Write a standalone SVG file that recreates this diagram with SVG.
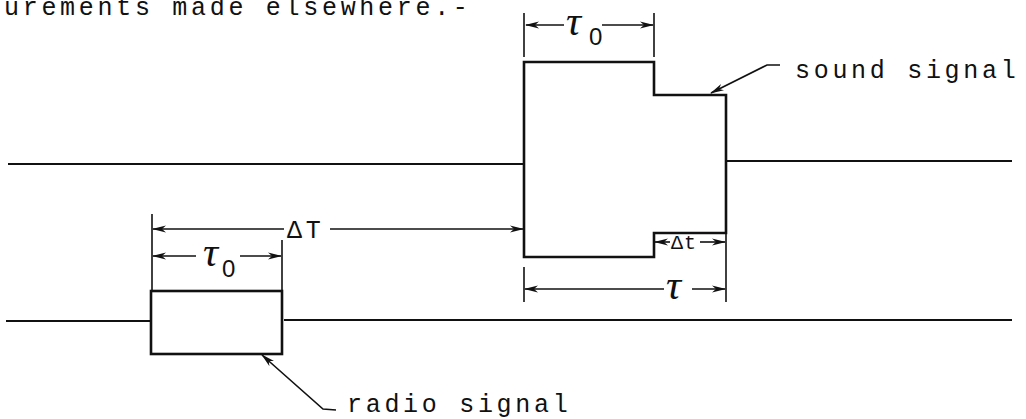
<svg xmlns="http://www.w3.org/2000/svg" width="1026" height="419" viewBox="0 0 1026 419">
<style>
.tw{font-family:"Liberation Mono","DejaVu Sans Mono",monospace;font-size:25px;letter-spacing:3.7px;fill:#111}
.tau{font-family:"Liberation Serif","DejaVu Serif",serif;font-style:italic;font-size:42px;fill:#111}
.sub{font-family:"Liberation Sans","DejaVu Sans",sans-serif;font-size:24px;fill:#111}
.base{stroke:#111;stroke-width:2.2;fill:none}
.sig{stroke:#111;stroke-width:2.6;fill:none;stroke-linejoin:miter}
.dim{stroke:#111;stroke-width:1.6;fill:none}
</style>
<defs>
<marker id="ah" viewBox="0 0 14 8" refX="13" refY="4" markerWidth="14" markerHeight="8" markerUnits="userSpaceOnUse" orient="auto">
<path d="M0,0.5 L14,4 L0,7.5 L4,4 z" fill="#111"/>
</marker>
</defs>
<rect width="1026" height="419" fill="#fff"/>
<text class="tw" x="4" y="15">urements made elsewhere.-</text>
<g id="baselines">
<line class="base" x1="8" y1="164" x2="524" y2="164"/>
<line class="base" x1="727" y1="161" x2="1012" y2="161"/>
<line class="base" x1="6" y1="321" x2="151" y2="321"/>
<line class="base" x1="284" y1="320" x2="1012" y2="320"/>
</g>
<g id="sound-signal">
<path class="sig" d="M524,62 H654 V95 H726 V233 H654 V257 H524 Z"/>
</g>
<g id="radio-signal">
<rect class="sig" x="151" y="291" width="131" height="63"/>
</g>
<g id="connectors">
<line class="dim" x1="524" y1="13" x2="524" y2="57"/>
<line class="dim" x1="654" y1="13" x2="654" y2="57"/>
<line class="dim" x1="564" y1="25" x2="526" y2="25" marker-end="url(#ah)"/>
<line class="dim" x1="602" y1="25" x2="653" y2="25" marker-end="url(#ah)"/>
<line class="dim" x1="152" y1="214" x2="152" y2="290"/>
<line class="dim" x1="282" y1="240" x2="282" y2="290"/>
<line class="dim" x1="284" y1="229" x2="153" y2="229" marker-end="url(#ah)"/>
<line class="dim" x1="330" y1="229" x2="523" y2="229" marker-end="url(#ah)"/>
<line class="dim" x1="196" y1="256" x2="153" y2="256" marker-end="url(#ah)"/>
<line class="dim" x1="240" y1="256" x2="281" y2="256" marker-end="url(#ah)"/>
<line class="dim" x1="726" y1="233" x2="726" y2="302"/>
<line class="dim" x1="524" y1="267" x2="524" y2="302"/>
<line class="dim" x1="670" y1="242" x2="655" y2="242" marker-end="url(#ah)"/>
<line class="dim" x1="700" y1="242" x2="725" y2="242" marker-end="url(#ah)"/>
<line class="dim" x1="664" y1="289" x2="525" y2="289" marker-end="url(#ah)"/>
<line class="dim" x1="692" y1="289" x2="725" y2="289" marker-end="url(#ah)"/>
<polyline class="dim" points="780,65 767,65 711,93" marker-end="url(#ah)"/>
<polyline class="dim" points="336,410 323,409 262,355" marker-end="url(#ah)"/>
</g>
<g id="labels">
<text class="tau" x="566" y="35">τ</text>
<text class="sub" x="589" y="45">0</text>
<text class="tw" x="287" y="238">ΔT</text>
<text class="tau" x="203" y="266">τ</text>
<text class="sub" x="222" y="277">0</text>
<text class="tw" x="671" y="249" style="font-size:20px;letter-spacing:1px">Δt</text>
<text class="tau" x="666" y="299">τ</text>
<text class="tw" x="795" y="78">sound signal</text>
<text class="tw" x="347" y="412">radio signal</text>
</g>
</svg>
